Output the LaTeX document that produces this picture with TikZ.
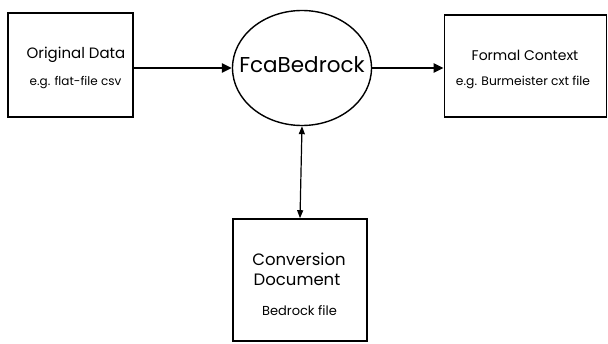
\documentclass[tikz,border=0pt]{standalone}
\usepackage{fontspec}
\setmainfont{Poppins}
\usetikzlibrary{arrows.meta,shapes.geometric}
\newcommand{\fsz}[1]{\fontsize{#1}{#1}\selectfont}
\begin{document}
\begin{tikzpicture}[x=1pt,y=-1pt,
  box/.style={draw,line width=1.6pt,inner sep=0pt},
  txt/.style={anchor=base,inner sep=0pt},
  harrow/.style={line width=2.4pt,-{Triangle[length=10pt,width=9pt]}},
  varrow/.style={line width=1.2pt,{Triangle[length=8pt,width=6pt]}-{Triangle[length=8pt,width=6pt]}}]
\useasboundingbox (0,0) rectangle (608,343);
\node[box,minimum width=125pt,minimum height=104pt] (orig) at (70.5,65) {};
\node[txt,font=\fsz{15}] (origt) at (76,58) {Original Data};
\node[txt,font=\fsz{12}] (origs) at (75.5,85) {e.g. flat-file csv};
\node[draw,line width=1.4pt,ellipse,minimum width=139pt,minimum height=115pt,inner sep=0pt] (fca) at (302,68) {};
\node[txt,font=\fsz{21.5}] (fcat) at (302,72) {FcaBedrock};
\node[box,minimum width=162pt,minimum height=102pt] (fc) at (525.5,66) {};
\node[txt,font=\fsz{14}] (fct) at (525,60) {Formal Context};
\node[txt,font=\fsz{12.3}] (fcs) at (523,85) {e.g. Burmeister cxt file};
\node[box,minimum width=134pt,minimum height=122pt] (conv) at (300,280) {};
\node[txt,font=\fsz{16.5}] (convt) at (299,265) {Conversion};
\node[txt,font=\fsz{16.5}] (convd) at (297,285) {Document};
\node[txt,font=\fsz{13}] (convs) at (299.5,315) {Bedrock file};
\draw[harrow] (orig.east |- fca.west) -- (fca.west);
\draw[harrow] (fca.east) -- (fc.west |- fca.east);
\draw[varrow] (fca.south) -- (conv.north);
\end{tikzpicture}
\end{document}
